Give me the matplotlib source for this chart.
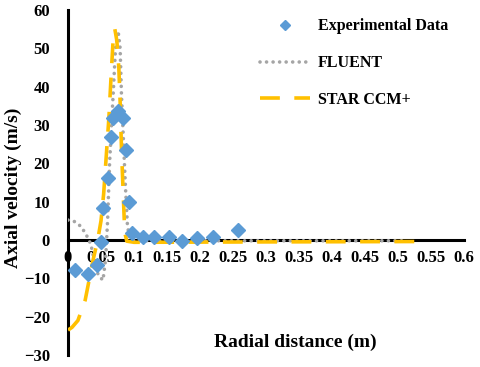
import matplotlib
matplotlib.use("Agg")
import matplotlib.pyplot as plt

# Experimental data
exp_r = [0.011, 0.031, 0.044, 0.050, 0.0535, 0.061, 0.0647, 0.0677, 0.0753, 0.0829,
         0.0879, 0.0929, 0.0965, 0.114, 0.131, 0.153, 0.172, 0.196, 0.219, 0.258]
exp_v = [-7.7, -8.9, -6.5, -0.4, 8.3, 16.3, 26.9, 31.9, 33.6, 31.9,
         23.4, 9.8, 1.7, 0.7, 0.7, 0.7, -0.2, 0.4, 0.7, 2.6]

# FLUENT
fl_r = [0.000, 0.010, 0.020, 0.026, 0.032, 0.036, 0.041, 0.046, 0.053, 0.057, 0.060,
        0.063, 0.066, 0.069, 0.072, 0.076, 0.079, 0.081, 0.084, 0.087, 0.090, 0.093,
        0.100, 0.300, 0.515]
fl_v = [5.2, 4.8, 3.5, 1.8, 0.0, -2.2, -6.5, -9.2, -10.5, -5.0, 5.0,
        20.0, 30.0, 40.0, 50.0, 54.5, 50.0, 38.0, 26.0, 14.0, 4.0, 0.5,
        -0.2, -0.2, -0.2]

# STAR CCM+
st_r = [0.000, 0.006, 0.015, 0.026, 0.033, 0.038, 0.045, 0.050, 0.054, 0.058, 0.062,
        0.066, 0.069, 0.071, 0.074, 0.077, 0.079, 0.081, 0.084, 0.086, 0.089, 0.100,
        0.300, 0.528]
st_v = [-23.5, -22.8, -21.0, -15.7, -9.6, -5.2, 0.0, 5.0, 12.0, 22.0, 32.0,
        45.0, 54.0, 55.0, 52.0, 45.0, 36.0, 24.0, 10.5, 2.0, -0.3, -0.6,
        -0.5, -0.4]

x_ticks = [0, 0.05, 0.1, 0.15, 0.2, 0.25, 0.3, 0.35, 0.4, 0.45, 0.5, 0.55, 0.6]
x_labels = ["0", "0.05", "0.1", "0.15", "0.2", "0.25", "0.3", "0.35", "0.4", "0.45", "0.5", "0.55", "0.6"]
y_ticks = [-30, -20, -10, 0, 10, 20, 30, 40, 50, 60]

plt.rcParams['font.family'] = ['Liberation Serif', 'DejaVu Serif']
plt.rcParams['font.weight'] = 'bold'

fig = plt.figure(figsize=(4.8, 3.67), dpi=100)
ax = fig.add_axes([68/480, 1-355/367, (464-68)/480, (355-10)/367])

ax.plot(fl_r, fl_v, color='#A5A5A5', lw=2.6, linestyle=(0, (0.01, 1.8)),
        dash_capstyle='round', label='FLUENT', zorder=3)
ax.plot(st_r, st_v, color='#FFC000', lw=2.6, linestyle=(0, (5.5, 4.0)),
        label='STAR CCM+', zorder=4)
ax.plot(exp_r, exp_v, linestyle='none', marker='D', markersize=7,
        color='#5B9BD5', label='Experimental Data', zorder=5)

ax.set_xlim(0, 0.6)
ax.set_ylim(-30, 60)
ax.set_xticks(x_ticks)
ax.set_xticklabels(x_labels)
ax.set_yticks(y_ticks)

for s in ['top', 'right']:
    ax.spines[s].set_visible(False)
ax.spines['bottom'].set_position(('data', 0))
ax.spines['left'].set_linewidth(2.2)
ax.spines['bottom'].set_linewidth(2.2)
ax.spines['left'].set_zorder(1)
ax.spines['bottom'].set_zorder(1)

ax.tick_params(axis='x', length=0, pad=7, labelsize=12)
ax.tick_params(axis='y', length=0, pad=13, labelsize=12)
for t in ax.get_xticklabels() + ax.get_yticklabels():
    t.set_fontweight('bold')

fig.text(13/480, 1-188/367, 'Axial velocity (m/s)', rotation=90, ha='center', va='center',
         fontsize=14, fontweight='bold')
fig.text(295/480, 1-342/367, 'Radial distance (m)', ha='center', va='center',
         fontsize=14, fontweight='bold')

handles, labels = ax.get_legend_handles_labels()
order = [2, 0, 1]
leg = ax.legend([handles[i] for i in order], [labels[i] for i in order],
                loc='upper left', bbox_to_anchor=(246/480, 1-4/367),
                bbox_transform=fig.transFigure, frameon=False,
                prop={'family': 'Liberation Serif', 'weight': 'bold', 'size': 11.5},
                handlelength=3.1, labelspacing=1.3, handletextpad=0.5, markerscale=0.75)

fig.savefig('out.png', dpi=100)
